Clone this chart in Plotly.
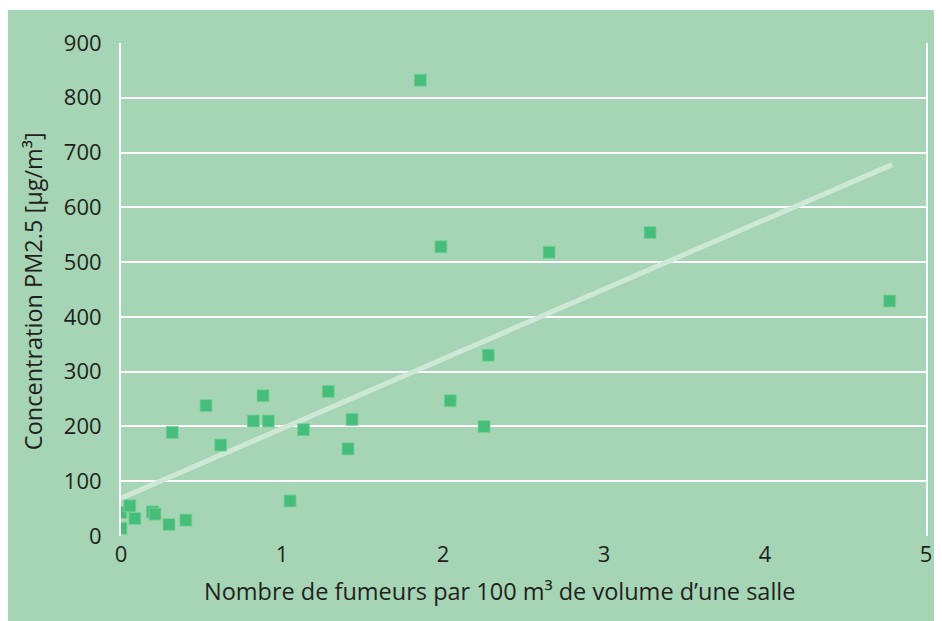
import plotly.graph_objects as go

# smokers per 100 m3 of room volume vs PM2.5 concentration (µg/m3)
smokers = [0.00, 0.00, 0.055, 0.086, 0.195, 0.211, 0.298, 0.403,
           0.318, 0.528, 0.619, 0.822, 0.915, 0.882, 1.05, 1.134,
           1.287, 1.435, 1.41, 2.045, 2.255, 2.281, 1.987, 1.859,
           2.659, 3.286, 4.774]
pm25 = [43, 14, 55, 32, 44, 40, 21, 29,
        189, 238, 166, 210, 210, 256, 64, 194,
        264, 213, 159, 247, 200, 330, 528, 832,
        518, 554, 429]

# trend line end points
trend_x = [0, 4.79]
trend_y = [69, 678]

x_ticks = [0, 1, 2, 3, 4, 5]
y_ticks = [0, 100, 200, 300, 400, 500, 600, 700, 800, 900]

BG = "#a5d5b5"
TEXT = "#231f20"
FONT = "Open Sans"

fig = go.Figure()
fig.add_trace(go.Scatter(x=trend_x, y=trend_y, mode="lines",
                         line=dict(color="#cfe8d6", width=5),
                         hoverinfo="skip", showlegend=False))
fig.add_trace(go.Scatter(x=smokers, y=pm25, mode="markers",
                         marker=dict(symbol="square", size=12, color="#47bd7c",
                                     line=dict(width=1, color="rgba(120,210,150,0.8)")),
                         showlegend=False))

# thin white strip along the top edge (page margin gives the rest)
fig.add_shape(type="rect", xref="paper", yref="paper", layer="below",
              x0=-0.2, x1=1.1, y0=1.0669, y1=1.1,
              fillcolor="white", line=dict(width=0))

fig.add_annotation(text="Nombre de fumeurs par 100 m³ de volume d’une salle",
                   xref="paper", yref="paper", x=0.4698, y=-0.1116,
                   xanchor="center", yanchor="middle", showarrow=False,
                   font=dict(family=FONT, size=23.5, color=TEXT))
fig.add_annotation(text="Concentration PM2.5 [µg/m³]", textangle=-90,
                   xref="paper", yref="paper", x=-0.1085, y=0.496,
                   xanchor="center", yanchor="middle", showarrow=False,
                   font=dict(family=FONT, size=23.5, color=TEXT))

fig.update_xaxes(range=[0, 5], tickvals=x_ticks, showgrid=False,
                 zeroline=False, showline=False, ticks="",
                 ticklabelstandoff=3, ticklabeloverflow="allow",
                 tickfont=dict(family=FONT, size=22, color=TEXT))
fig.update_yaxes(range=[0, 900], tickvals=y_ticks, showgrid=True,
                 gridcolor="white", gridwidth=2, zeroline=False,
                 showline=True, linecolor="white", linewidth=2, mirror=True,
                 ticks="", ticklabelstandoff=13,
                 tickfont=dict(family=FONT, size=22, color=TEXT))

# the page keeps its 8px body margin, so the figure is 8px smaller each way
fig.update_layout(width=934, height=613,
                  margin=dict(l=113, r=10, t=35, b=85),
                  paper_bgcolor=BG, plot_bgcolor=BG,
                  font=dict(family=FONT, color=TEXT))

fig.write_html("out.html", config={"displayModeBar": False})
